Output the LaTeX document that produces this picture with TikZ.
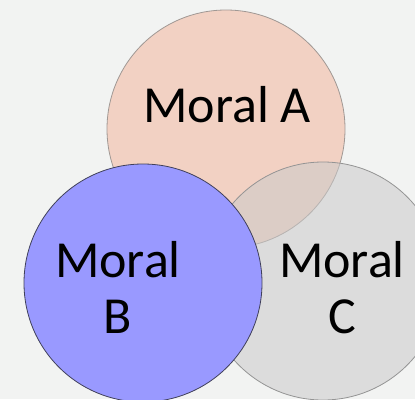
\documentclass[tikz,border=0pt]{standalone}
\usepackage{fontspec}
\setmainfont{Carlito}
\definecolor{bgcol}{HTML}{F2F3F2}
\definecolor{fillA}{HTML}{F2D1C3}
\definecolor{edgeA}{HTML}{A09894}
\definecolor{fillB}{HTML}{9999FF}
\definecolor{edgeB}{HTML}{40405A}
\definecolor{fillC}{HTML}{CACACA}
\definecolor{edgeC}{HTML}{949494}
\begin{document}
\begin{tikzpicture}[x=1pt,y=-1pt,inner sep=0pt,outer sep=0pt,
venn/.style={draw,circle,minimum size=238pt,line width=0.8pt},
tag/.style={font=\fontsize{52}{56}\selectfont,align=center}]
\useasboundingbox (0,0) rectangle (415,399);
\clip (0,0) rectangle (415,399);
\fill[bgcol] (0,0) rectangle (415,399);
% the three circles
\node[venn,draw=edgeA,fill=fillA] (A) at (226,129) {};
\node[venn,draw=edgeC,fill=fillC,fill opacity=0.55] (C) at (323,281) {};
\node[venn,draw=edgeB,fill=fillB] (B) at (143,283) {};
% labels
\node[tag,anchor=base] (labA) at (227,122) {Moral A};
\node[tag,anchor=base] (labB) at (118,333) {Moral\\B};
\node[tag,anchor=base] (labC) at (342,333) {Moral\\C};
\end{tikzpicture}
\end{document}
